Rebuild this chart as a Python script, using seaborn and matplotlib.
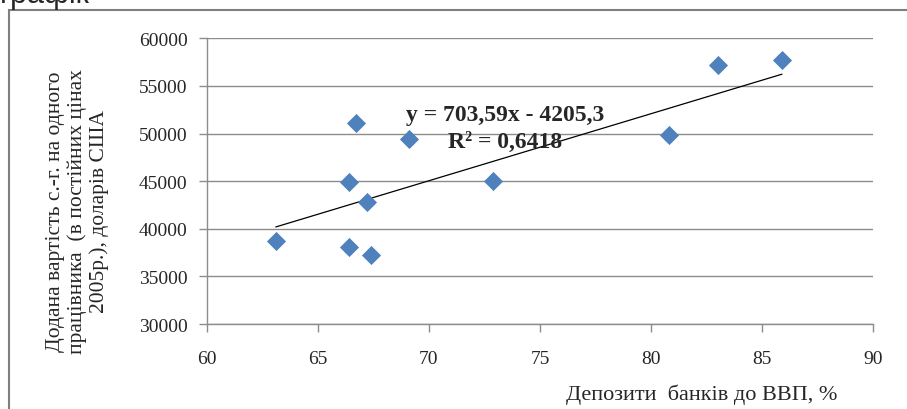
import numpy as np
import pandas as pd
import seaborn as sns
import matplotlib
matplotlib.use('Agg')
from matplotlib import pyplot as plt
from matplotlib.patches import Rectangle

# дані
deposits = [63.1, 66.4, 67.4, 66.4, 67.2, 66.7, 69.1, 72.9, 80.8, 83.0, 85.9]
value_added = [38700, 38100, 37200, 44900, 42800, 51100, 49400, 45000, 49900, 57200, 57750]
x_ticks = [60, 65, 70, 75, 80, 85, 90]
y_ticks = [30000, 35000, 40000, 45000, 50000, 55000, 60000]
# коефіцієнти лінійного тренду з підпису на графіку
trend_slope = 703.59
trend_intercept = -4205.3

df = pd.DataFrame({'x': deposits, 'y': value_added})
trend_x = [min(deposits), max(deposits)]
trend_df = pd.DataFrame({'x': trend_x,
                         'y': [trend_slope * v + trend_intercept for v in trend_x]})

sns.set_style('white')
plt.rcParams['font.family'] = ['Liberation Serif', 'DejaVu Serif']

fig = plt.figure(figsize=(9.07, 4.10), dpi=100)
ax = fig.add_axes([0.2282, 0.2073, 0.7343, 0.6968])

sns.lineplot(data=trend_df, x='x', y='y', ax=ax, color='black', linewidth=0.9, zorder=2)
sns.scatterplot(data=df, x='x', y='y', ax=ax, marker='D', s=95,
                color='#4F81BD', linewidth=0, alpha=1, zorder=3)

ax.set_xlim(60, 90)
ax.set_ylim(30000, 60000)
ax.set_xticks(x_ticks)
ax.set_yticks(y_ticks)
ax.grid(axis='y', color='#8c8c8c', linewidth=1)
ax.grid(axis='x', visible=False)
for s in ['top', 'right']:
    ax.spines[s].set_visible(False)
for s in ['left', 'bottom']:
    ax.spines[s].set_color('#8c8c8c')
    ax.spines[s].set_linewidth(1)
ax.tick_params(axis='both', direction='out', length=6, width=1, color='#8c8c8c',
               labelsize=14, left=True, bottom=True)
ax.tick_params(axis='y', pad=8)
ax.tick_params(axis='x', pad=13)

ax.set_xlabel('Депозити  банків до ВВП, %', fontsize=16, va='baseline')
ax.xaxis.set_label_coords(0.743, -0.2625)
ax.set_ylabel('Додана вартість с.-г. на одного\nпрацівника  (в постійних цінах\n2005р.), доларів США',
              fontsize=15.5, linespacing=1.15, ha='center', va='center')
ax.yaxis.set_label_coords(-0.195, 0.396)

ax.text(73.42, 51420, 'y = 703,59x - 4205,3', ha='center', va='baseline',
        fontsize=17, fontweight='bold')
ax.text(73.42, 48600, 'R² = 0,6418', ha='center', va='baseline',
        fontsize=17, fontweight='bold')

# рамка області діаграми
fig.patches.append(Rectangle((9 / 907, -0.1), 1.2, 1.1 - 11 / 410,
                             transform=fig.transFigure, fill=False,
                             edgecolor='#7f7f7f', linewidth=1.5))
# обрізаний заголовок зверху
fig.text(0.0, 1 - 3 / 410, 'графік', family=['Liberation Sans', 'DejaVu Sans'],
         fontsize=22, va='baseline', ha='left')

fig.savefig('out.png', dpi=100)
